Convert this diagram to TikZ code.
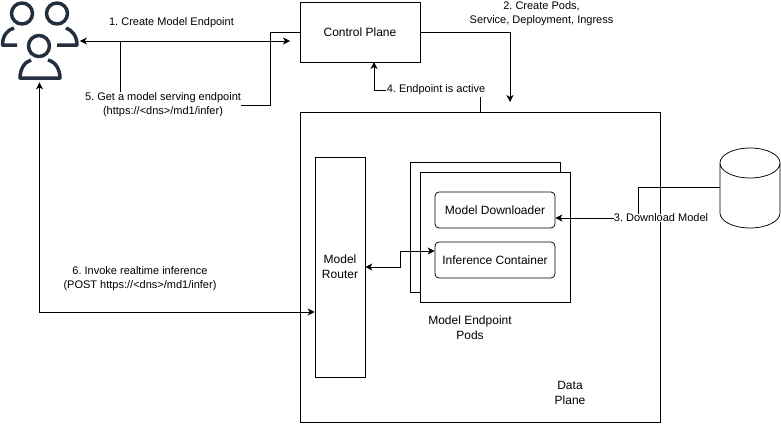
\documentclass[tikz,border=0pt]{standalone}
\usepackage{fontspec}
\setmainfont{Liberation Sans}
\usepackage{tikz}
\usetikzlibrary{arrows.meta,calc,positioning}
\definecolor{usercolor}{HTML}{232F3E}
\tikzset{
  box/.style={draw,minimum width=#1,inner sep=0pt,align=center},
  roundbox/.style={draw,rounded corners=4pt,minimum width=120pt,minimum height=36pt,inner sep=0pt},
  lbl/.style={fill=white,inner sep=0pt,align=center,font=\fontsize{11}{14}\selectfont},
  arrow/.style={-{Stealth[length=7pt,width=7pt,inset=2pt]}},
  twoway/.style={{Stealth[length=7pt,width=7pt,inset=2pt]}-{Stealth[length=7pt,width=7pt,inset=2pt]}},
  person/.style={line width=3.5pt,draw=usercolor,line cap=butt,line join=round}
}
\frenchspacing
\begin{document}
\begin{tikzpicture}[x=1pt,y=-1pt,line width=0.75pt,font=\fontsize{12}{15}\selectfont]
  \useasboundingbox (0,0) rectangle (781,423);
  % planes
  \node[box=120pt,minimum height=60pt] (ctrl) at (360,32) {Control Plane};
  \node[box=360pt,minimum height=310pt] (data) at (480,267) {};
  \node[box=50pt,minimum height=220pt] (router) at (340,267) {Model\\Router};
  % pods
  \node[box=150pt,minimum height=130pt] (podback) at (485,227) {};
  \node[box=150pt,minimum height=130pt,fill=white] (pod) at (495,237) {};
  \node[roundbox] (down) at (495,210) {Model Downloader};
  \node[roundbox] (infer) at (495,260) {Inference Container};
  \node[align=center] (podlbl) at (470,328) {Model Endpoint\\Pods};
  \node[align=center] (datalbl) at (570,393) {Data\\Plane};
  % model store
  \node[minimum width=60pt,minimum height=80pt,inner sep=0pt,outer sep=0pt] (store) at (750,188) {};
  \draw (720,163) arc[x radius=30,y radius=15,start angle=180,end angle=-180]
    -- (720,213) arc[x radius=30,y radius=15,start angle=180,end angle=0] -- (780,163);
  % users
  \node[minimum width=80pt,minimum height=82pt,inner sep=0pt] (users) at (39.5,41) {};
  \draw[person] (22,13.5) circle (10.5);
  \draw[person] (57,13.5) circle (10.5);
  \draw[person] (14,28) .. controls (7,30) and (2.5,36) .. (2.5,45) -- (17,45);
  \draw[person] (66,28) .. controls (72,30) and (77,36) .. (77,45) -- (57,45);
  \draw[person] (39,46) circle (10.5);
  \draw[person] (31,60) .. controls (24,62) and (20,70) .. (20,78) -- (60,78)
    .. controls (60,70) and (56,62) .. (48,60);
  % labels
  \node[lbl] (step1) at (171.5,23) {1. Create Model Endpoint};
  \node[lbl] (step2) at (541.5,14) {2. Create Pods,\\Service, Deployment, Ingress};
  \node[lbl] (step3) at (661,218) {3. Download Model};
  \node[lbl] (step4) at (436,90) {4. Endpoint is active};
  \node[lbl] (step5) at (163,105) {5. Get a model serving endpoint\\(https://<dns>/md1/infer)};
  \node[lbl] (step6) at (140,279) {6. Invoke realtime inference\\(POST https://<dns>/md1/infer)};
  % connectors
  \coordinate (in1) at (290,41);
  \coordinate (in2) at (510,102);
  \draw[twoway] (users.east |- in1) -- (in1);
  \draw[arrow] (ctrl.east) -| (in2);
  \draw (store.west |- 0,187) -| (step3.north -| 638,0);
  \draw[arrow] (step3.west) -- (down.east |- step3.west);
  \draw (data.north -| 480,0) -- (480,97);
  \draw[arrow] (step4.west) -| (374,62);
  \draw (ctrl.west) -- (270,32) |- (step5.east);
  \draw (step5.north -| 120.5,0) -- (120.5,41);
  \draw[twoway] (users.south) -- (39.5,312) -- (router.west |- 0,312);
  \draw[twoway] (router.east) -- (400,267) -- (400,251) -- (infer.west |- 0,251);
\end{tikzpicture}
\end{document}
